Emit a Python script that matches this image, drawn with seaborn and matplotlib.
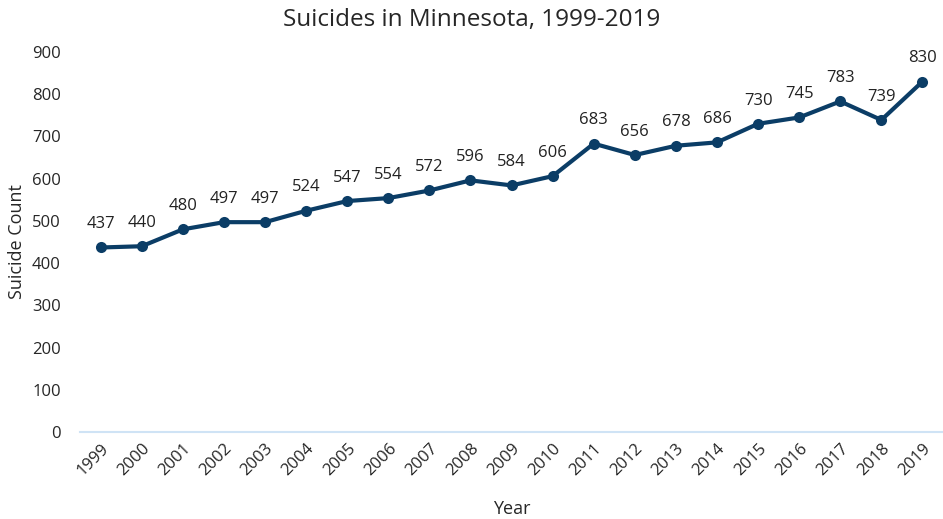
import seaborn as sns
import pandas as pd
import matplotlib.pyplot as plt

years = [str(y) for y in range(1999, 2020)]
counts = [437, 440, 480, 497, 497, 524, 547, 554, 572, 596, 584, 606,
          683, 656, 678, 686, 730, 745, 783, 739, 830]

df = pd.DataFrame({'Year': years, 'Count': counts})

sns.set_style('white')
plt.rcParams['font.family'] = ['Open Sans', 'DejaVu Sans']

fig = plt.figure(figsize=(9.43, 5.19), dpi=100)
ax = fig.add_axes([0.085, 0.1676, 0.915, 0.7322])

line_color = '#0b3d66'
sns.lineplot(data=df, x='Year', y='Count', ax=ax, color=line_color,
             linewidth=3, marker='o', markersize=8, markeredgewidth=0)

for i, v in enumerate(counts):
    ax.annotate(str(v), (i, v), textcoords='offset points', xytext=(0, 11),
                ha='center', va='bottom', fontsize=12, color='#222222')

ax.set_ylim(0, 900)
ax.set_xlim(-0.5, 20.5)
ax.set_yticks(range(0, 901, 100))
ax.tick_params(axis='x', labelrotation=45, labelsize=12, length=0, pad=6)
ax.tick_params(axis='y', labelsize=12, length=0, pad=14)
for lbl in ax.get_xticklabels():
    lbl.set_ha('right')
    lbl.set_rotation_mode('anchor')

for s in ['top', 'right', 'left']:
    ax.spines[s].set_visible(False)
ax.spines['bottom'].set_color('#cfe3f5')
ax.spines['bottom'].set_linewidth(1.5)

ax.set_xlabel('Year', fontsize=13, labelpad=15)
ax.set_ylabel('Suicide Count', fontsize=13, labelpad=4)
fig.suptitle('Suicides in Minnesota, 1999-2019', fontsize=17.5, y=0.985)

fig.savefig('out.png', dpi=100)
